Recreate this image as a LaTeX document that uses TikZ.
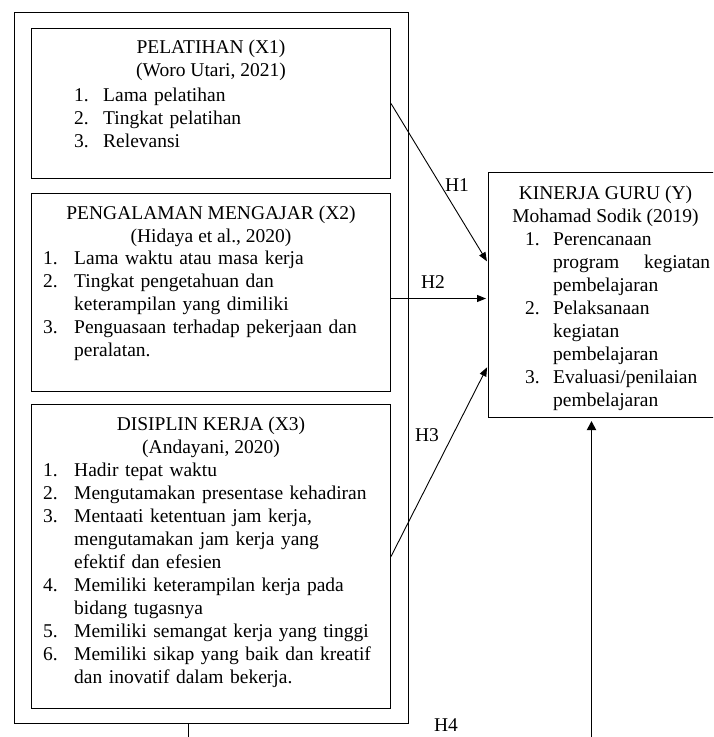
\documentclass[tikz,border=0pt]{standalone}
\usepackage{fontspec}
\setmainfont{Liberation Serif}
\usetikzlibrary{arrows.meta}

\newlength{\numwd}
\newcommand{\numitem}[2]{\noindent\hangindent=\numwd\hangafter=1\makebox[\numwd][l]{#1.}#2\par}

\begin{document}
\begin{tikzpicture}[x=1pt,y=-1pt,font=\fontsize{19.5}{23}\selectfont]
    \tikzstyle{frame} = [draw,line width=1pt,inner sep=0pt,anchor=north west]
    \tikzstyle{head} = [anchor=base,align=center,inner sep=0pt]
    \tikzstyle{items} = [anchor=base west,inner sep=0pt,execute at begin node={\rightskip=0pt plus 1fil\relax}]
    \tikzstyle{arr} = [line width=0.9pt,-{Triangle[length=9pt,width=7pt]},shorten >=2pt]
    \tikzstyle{hlabel} = [inner sep=0pt]
        \useasboundingbox (0,0) rectangle (713,737);
        \clip (0,0) rectangle (713,737);
        \node[frame,minimum width=394,minimum height=711] (outer) at (14,12) {};
        \node[frame,minimum width=359,minimum height=150] (x1) at (31,28) {};
        \node[frame,minimum width=359,minimum height=198] (x2) at (31,193) {};
        \node[frame,minimum width=359,minimum height=304] (x3) at (31,404) {};
        \node[frame,minimum width=240,minimum height=245] (y) at (488,172) {};
        \node[head] (x1h) at ([yshift=-48pt]x1.north) {PELATIHAN (X1)\\(Woro Utari, 2021)};
        \node[items,text width=300] (x1l) at ([xshift=43pt,yshift=-73pt]x1.north west) {\setlength{\numwd}{29pt}%
            \numitem{1}{Lama pelatihan}
            \numitem{2}{Tingkat pelatihan}
            \numitem{3}{Relevansi}};
        \node[head] (x2h) at ([yshift=-49pt]x2.north) {PENGALAMAN MENGAJAR (X2)\\(Hidaya et al., 2020)};
        \node[items,text width=340] (x2l) at ([xshift=12pt,yshift=-71pt]x2.north west) {\setlength{\numwd}{31pt}%
            \numitem{1}{Lama waktu atau masa kerja}
            \numitem{2}{Tingkat pengetahuan dan\newline keterampilan yang dimiliki}
            \numitem{3}{Penguasaan terhadap pekerjaan dan\newline peralatan.}};
        \node[head] (x3h) at ([yshift=-49pt]x3.north) {DISIPLIN KERJA (X3)\\(Andayani, 2020)};
        \node[items,text width=340] (x3l) at ([xshift=12pt,yshift=-72pt]x3.north west) {\setlength{\numwd}{31pt}%
            \numitem{1}{Hadir tepat waktu}
            \numitem{2}{Mengutamakan presentase kehadiran}
            \numitem{3}{Mentaati ketentuan jam kerja,\newline mengutamakan jam kerja yang\newline efektif dan efesien}
            \numitem{4}{Memiliki keterampilan kerja pada\newline bidang tugasnya}
            \numitem{5}{Memiliki semangat kerja yang tinggi}
            \numitem{6}{Memiliki sikap yang baik dan kreatif\newline dan inovatif dalam bekerja.}};
        \node[head] (yh) at ([xshift=-3pt,yshift=-50pt]y.north) {KINERJA GURU (Y)\\Mohamad Sodik (2019)};
        \node[items,text width=185] (yl) at ([xshift=37pt,yshift=-73pt]y.north west) {\setlength{\numwd}{28pt}%
            \numitem{1}{Perencanaan\newline program\hfill kegiatan\newline pembelajaran}
            \numitem{2}{Pelaksanaan\newline kegiatan\newline pembelajaran}
            \numitem{3}{Evaluasi/penilaian\newline pembelajaran}};
        \draw[arr] (x1.east) -- ([yshift=32pt]y.west);
        \draw[arr] ([yshift=-6pt]x2.east) -- ([yshift=-3.5pt]y.west);
        \draw[arr] (x3.east) -- ([yshift=-70.5pt]y.west);
        \draw[line width=1.8pt,-{Triangle[length=9pt,width=9pt]},shorten >=3pt] ([xshift=-23pt]outer.south) -- ++(0,40) -| ([xshift=-17pt]y.south);
        \node[hlabel] (h1) at (457,185) {H1};
        \node[hlabel] (h2) at (433,282) {H2};
        \node[hlabel] (h3) at (427,435) {H3};
        \node[hlabel] (h4) at (446,725) {H4};
    \end{tikzpicture}
\end{document}
